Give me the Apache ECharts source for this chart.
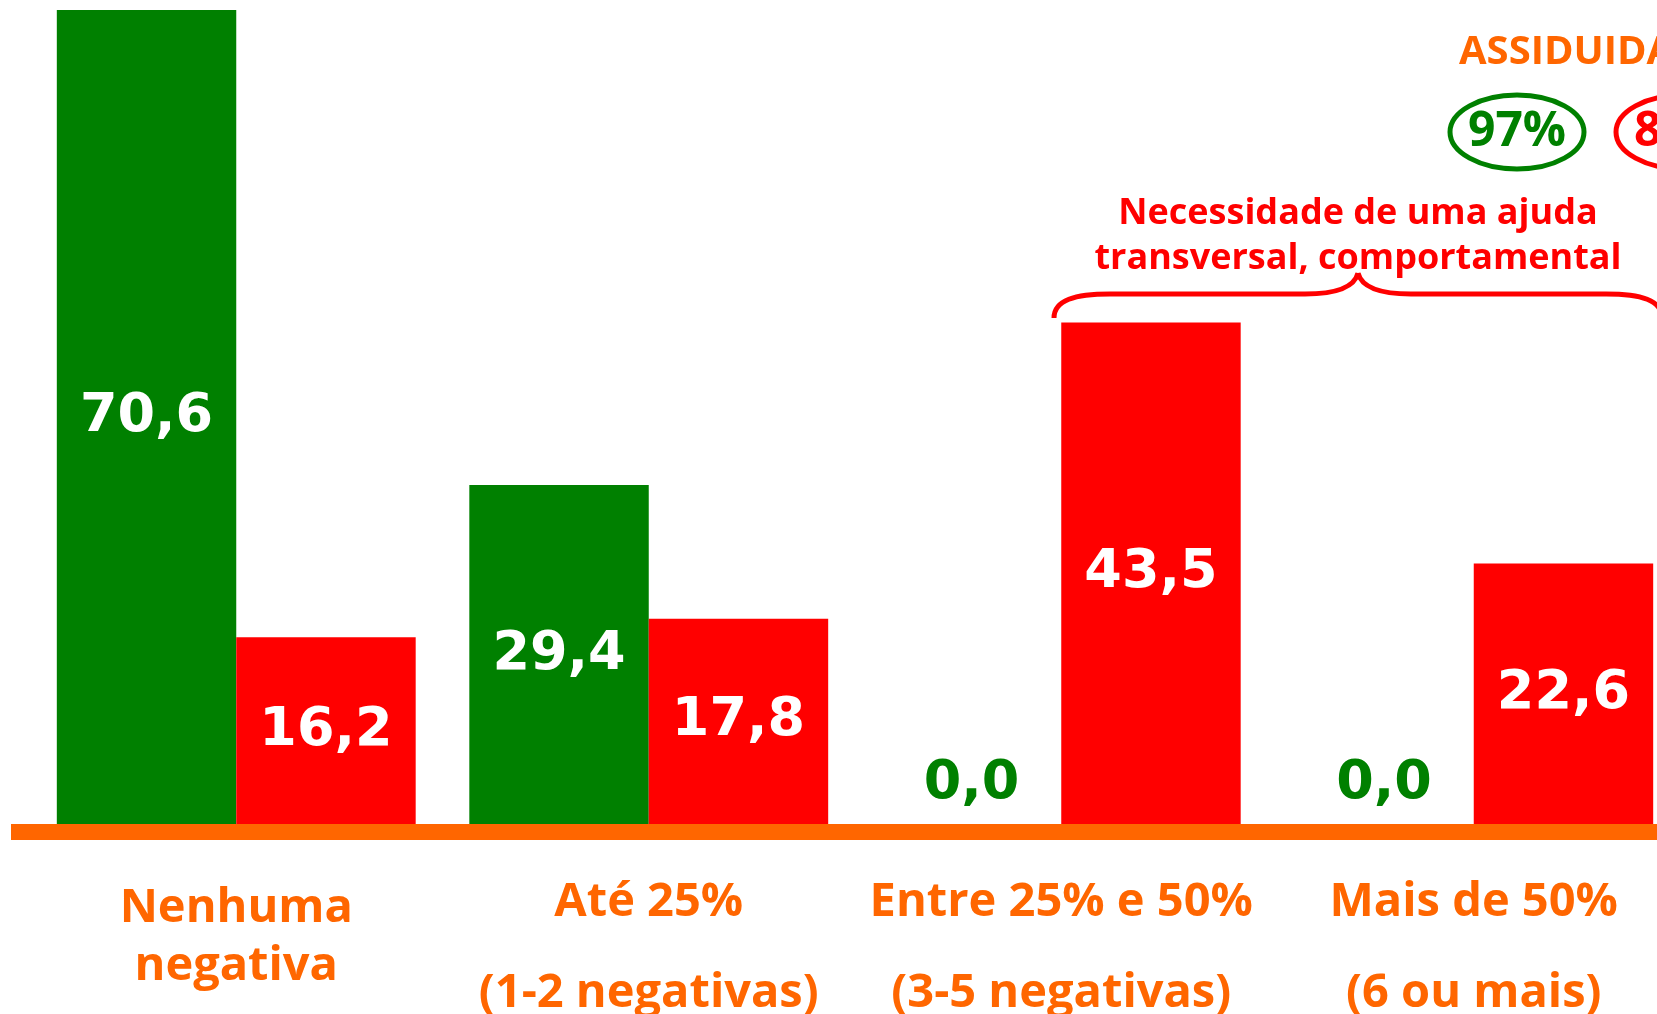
<!DOCTYPE html>
<html><head><meta charset="utf-8">
<script src="https://cdn.jsdelivr.net/npm/echarts@6/dist/echarts.min.js"></script>
<style>html,body{margin:0;padding:0;background:#fff;overflow:hidden}#c{width:1700px;height:1014px}</style>
</head><body><div id="c"></div>
<script>
const categories = ['Nenhuma\nnegativa', 'Até 25%\n\n(1-2 negativas)', 'Entre 25% e 50%\n\n(3-5 negativas)', 'Mais de 50%\n\n(6 ou mais)'];
const greenValues = [70.6, 29.4, 0.0, 0.0];
const redValues = [16.2, 17.8, 43.5, 22.6];
const attendanceTitle = 'ASSIDUIDADE';
const attendanceGreen = '97%';
const attendanceRed = '8';
const noteLines = ['Necessidade de uma ajuda', 'transversal, comportamental'];

const GREEN = '#008000', RED = '#FF0000', ORANGE = '#FF6600';
const labelFont = 'DejaVu Sans';
const textFont = '"Open Sans", sans-serif';
const fmt = p => p.value.toFixed(1).replace('.', ',');

const chart = echarts.init(document.getElementById('c'), null, {renderer: 'canvas'});
const catData = categories.map((c, i) => ({
  value: c,
  textStyle: {lineHeight: i === 0 ? 58 : 45.5}
}));
function seriesData(vals, color) {
  return vals.map(v => v === 0 ? {value: v, label: {position: 'top', distance: 13, color: color}} : v);
}
const braceStyle = {fill: 'none', stroke: RED, lineWidth: 5};
function bz(x1, y1, cx1, cy1, cx2, cy2, x2, y2) {
  return {type: 'bezierCurve', shape: {x1, y1, cpx1: cx1, cpy1: cy1, cpx2: cx2, cpy2: cy2, x2, y2}, style: braceStyle};
}
function ln(x1, y1, x2, y2) {
  return {type: 'line', shape: {x1, y1, x2, y2}, style: braceStyle};
}
chart.setOption({
  animation: false,
  grid: {left: 30, right: 20, top: 10, bottom: 190, containLabel: false, outerBoundsMode: 'none'},
  xAxis: {
    type: 'category', data: catData,
    axisLine: {show: false}, axisTick: {show: false},
    axisLabel: {margin: 56, color: ORANGE, fontFamily: textFont, fontWeight: 'bold', fontSize: 47, interval: 0}
  },
  yAxis: {type: 'value', min: 0, max: 'dataMax', show: false, splitLine: {show: false}},
  series: [
    {type: 'bar', name: 'green', data: seriesData(greenValues, GREEN), barGap: '0%', barCategoryGap: '13%',
     itemStyle: {color: GREEN},
     label: {show: true, position: 'inside', formatter: fmt, color: '#fff', fontFamily: labelFont, fontWeight: 'bold', fontSize: 54}},
    {type: 'bar', name: 'red', data: seriesData(redValues, RED), barGap: '0%', barCategoryGap: '13%',
     itemStyle: {color: RED},
     label: {show: true, position: 'inside', formatter: fmt, color: '#fff', fontFamily: labelFont, fontWeight: 'bold', fontSize: 54}}
  ],
  graphic: [
    {type: 'rect', shape: {x: 11, y: 824, width: 1690, height: 16}, style: {fill: ORANGE}, z: 10},
    {type: 'text', x: 1459, y: 53, style: {text: attendanceTitle, fill: ORANGE, font: 'bold 40px ' + textFont, align: 'left', verticalAlign: 'middle'}},
    {type: 'ellipse', shape: {cx: 1517, cy: 132, rx: 67, ry: 37}, style: {fill: 'none', stroke: GREEN, lineWidth: 5}},
    {type: 'text', x: 1517, y: 132, style: {text: attendanceGreen, fill: GREEN, font: 'bold 48px ' + textFont, align: 'center', verticalAlign: 'middle'}},
    {type: 'ellipse', shape: {cx: 1683, cy: 132, rx: 67, ry: 37}, style: {fill: 'none', stroke: RED, lineWidth: 5}},
    {type: 'text', x: 1634, y: 132, style: {text: attendanceRed, fill: RED, font: 'bold 48px ' + textFont, align: 'left', verticalAlign: 'middle'}},
    {type: 'text', x: 1358, y: 214, style: {text: noteLines[0], fill: RED, font: 'bold 36px ' + textFont, align: 'center', verticalAlign: 'middle'}},
    {type: 'text', x: 1358, y: 259, style: {text: noteLines[1], fill: RED, font: 'bold 36px ' + textFont, align: 'center', verticalAlign: 'middle'}},
    bz(1054, 318, 1054, 300, 1075, 294, 1110, 294),
    ln(1110, 294, 1305, 294),
    bz(1305, 294, 1340, 294, 1355, 285, 1358, 273),
    bz(1358, 273, 1361, 285, 1376, 294, 1411, 294),
    ln(1411, 294, 1606, 294),
    bz(1606, 294, 1641, 294, 1662, 300, 1662, 318)
  ]
});
</script></body></html>
